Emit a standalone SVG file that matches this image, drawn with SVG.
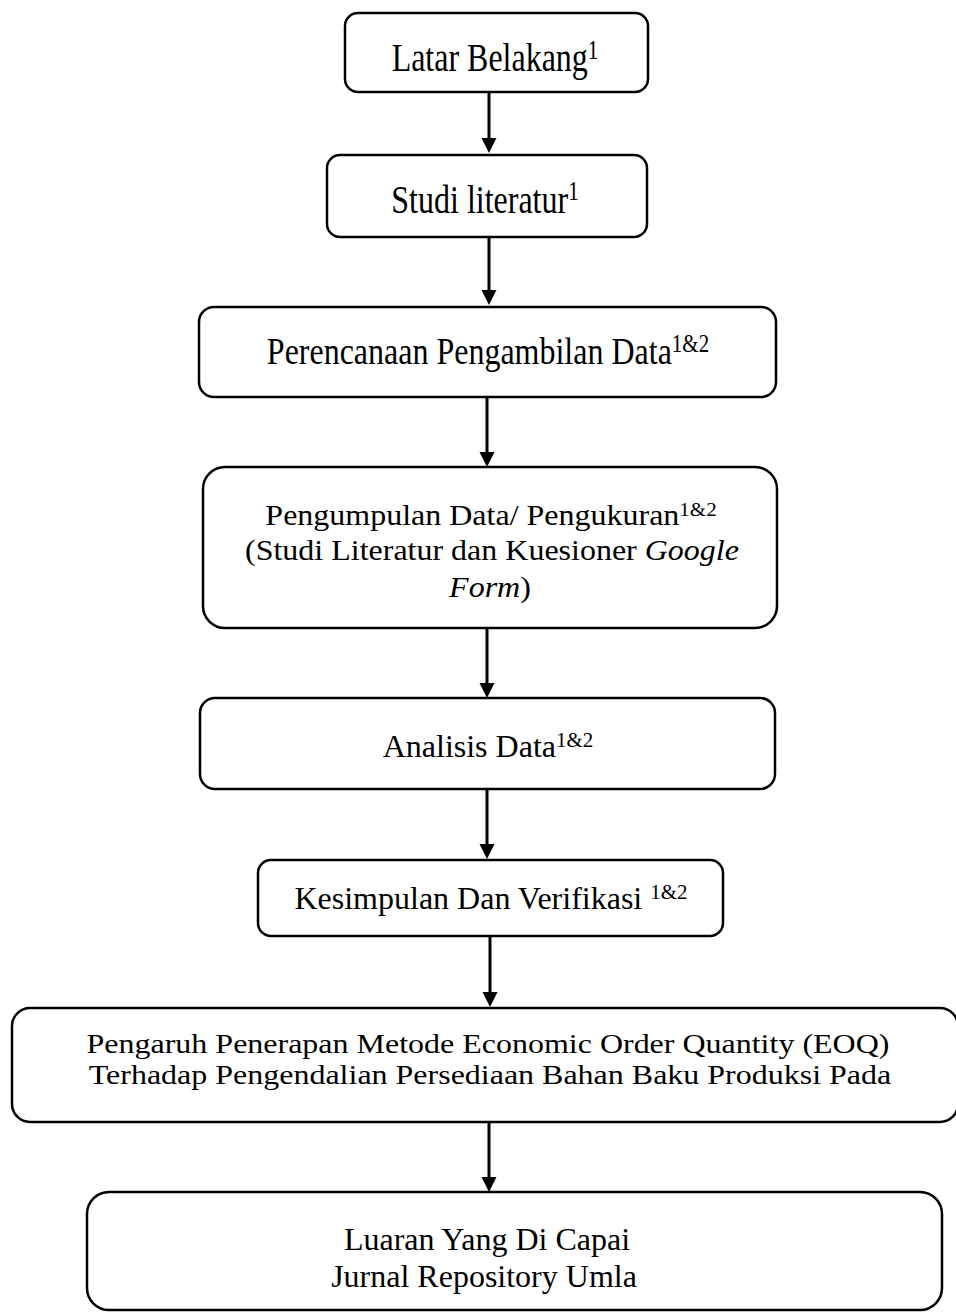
<svg xmlns="http://www.w3.org/2000/svg" width="956" height="1312" viewBox="0 0 956 1312">
<style>
.box{fill:#fff;stroke:#000;stroke-width:2.5}
.t{font-family:"Liberation Serif","Times New Roman",serif;font-size:32px;fill:#000;text-anchor:middle}
.sup{font-size:21px}
.it{font-style:italic}
.conn{stroke:#000;stroke-width:3;fill:none}
</style>
<defs>
<marker id="ah" markerUnits="userSpaceOnUse" markerWidth="16" markerHeight="16" refX="5" refY="7.5" orient="auto">
<path d="M0,0 L15,7.5 L0,15 z" fill="#000"/>
</marker>
</defs>
<rect width="956" height="1312" fill="#fff"/>
<g id="connectors">
<line class="conn" x1="489" y1="92" x2="489" y2="143" marker-end="url(#ah)"/>
<line class="conn" x1="489" y1="237" x2="489" y2="295" marker-end="url(#ah)"/>
<line class="conn" x1="487" y1="397" x2="487" y2="457" marker-end="url(#ah)"/>
<line class="conn" x1="487" y1="628" x2="487" y2="688" marker-end="url(#ah)"/>
<line class="conn" x1="487" y1="789" x2="487" y2="849" marker-end="url(#ah)"/>
<line class="conn" x1="490" y1="936" x2="490" y2="997" marker-end="url(#ah)"/>
<line class="conn" x1="489" y1="1122" x2="489" y2="1182" marker-end="url(#ah)"/>
</g>
<g id="n1">
<rect class="box" x="345" y="13" width="303" height="79" rx="13"/>
<text class="t" x="495" y="71.5" transform="matrix(1 0 0 1.26 0 -18.59)">Latar Belakang<tspan class="sup" dy="-10">1</tspan></text>
</g>
<g id="n2">
<rect class="box" x="327" y="155" width="320" height="82" rx="13"/>
<text class="t" x="485" y="213" transform="matrix(1 0 0 1.28 0 -59.64)">Studi literatur<tspan class="sup" dy="-10">1</tspan></text>
</g>
<g id="n3">
<rect class="box" x="199" y="307" width="577" height="90" rx="15"/>
<text class="t" x="488" y="364" transform="matrix(1 0 0 1.18 0 -65.52)">Perencanaan Pengambilan Data<tspan class="sup" dy="-10">1&amp;2</tspan></text>
</g>
<g id="n4">
<rect class="box" x="203" y="467" width="574" height="161" rx="22"/>
<text class="t" x="491" y="525" transform="matrix(1 0 0 0.92 0 42)">Pengumpulan Data/ Pengukuran<tspan class="sup" dy="-10">1&amp;2</tspan></text>
<text class="t" x="492" y="560" transform="matrix(1 0 0 0.92 0 44.8)">(Studi Literatur dan Kuesioner <tspan class="it">Google</tspan></text>
<text class="t" x="490" y="597" transform="matrix(1 0 0 0.92 0 47.76)"><tspan class="it">Form</tspan>)</text>
</g>
<g id="n5">
<rect class="box" x="200" y="698" width="575" height="91" rx="15"/>
<text class="t" x="488" y="757">Analisis Data<tspan class="sup" dy="-10">1&amp;2</tspan></text>
</g>
<g id="n6">
<rect class="box" x="258" y="860" width="465" height="76" rx="13"/>
<text class="t" x="491" y="909">Kesimpulan Dan Verifikasi <tspan class="sup" dy="-10">1&amp;2</tspan></text>
</g>
<g id="n7">
<rect class="box" x="12" y="1008" width="946" height="114" rx="18"/>
<text class="t" transform="matrix(1 0 0 0.86 0 147.42)"><tspan x="488" y="1053">Pengaruh Penerapan Metode Economic Order Quantity (EOQ)</tspan><tspan x="490" y="1089">Terhadap Pengendalian Persediaan Bahan Baku Produksi Pada</tspan></text>
</g>
<g id="n8">
<rect class="box" x="87" y="1192" width="855" height="118" rx="22"/>
<text class="t"><tspan x="487" y="1250">Luaran Yang Di Capai</tspan><tspan x="484" y="1287">Jurnal Repository Umla</tspan></text>
</g>
</svg>
